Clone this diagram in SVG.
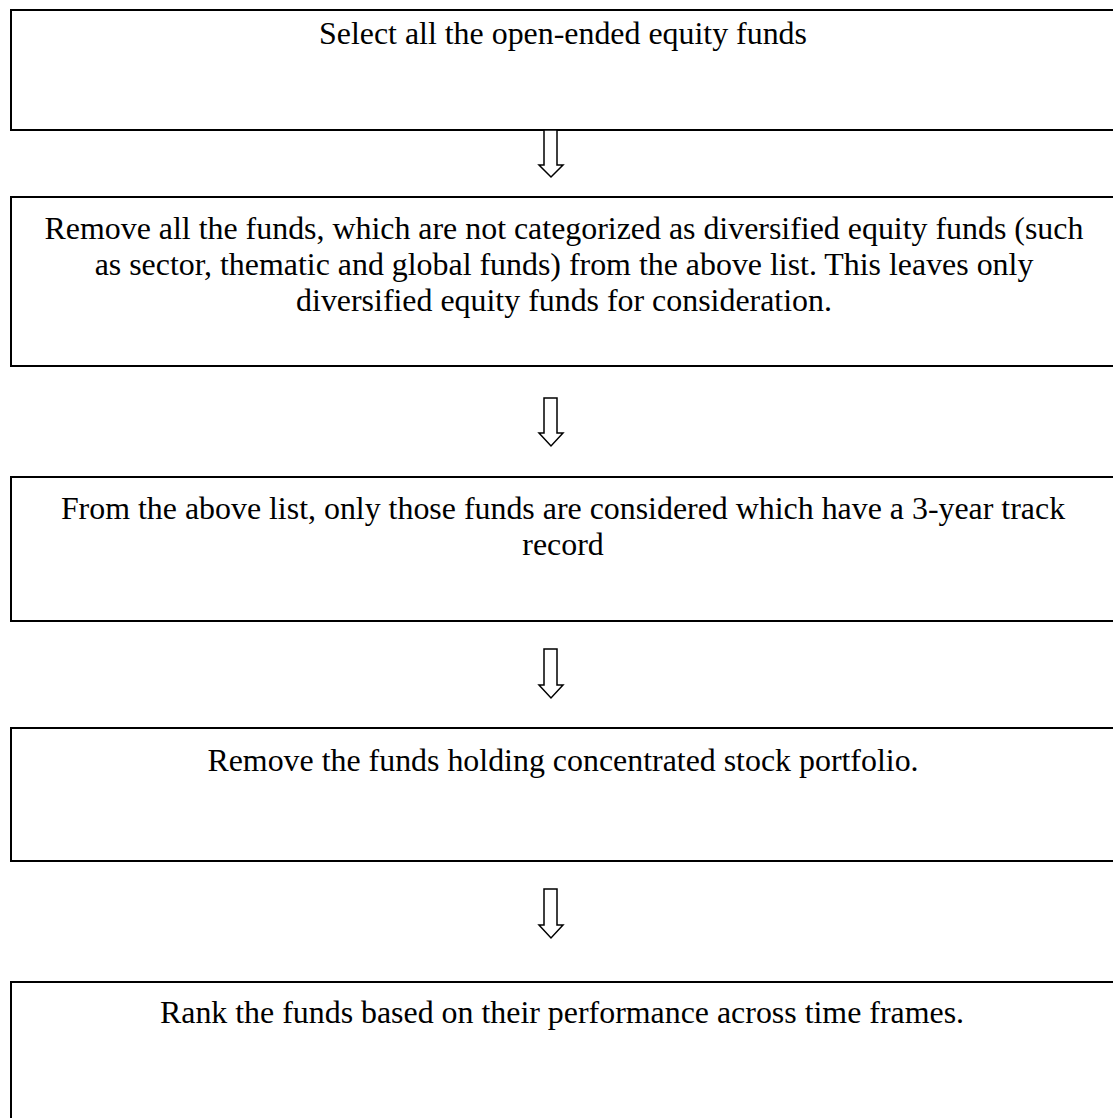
<svg xmlns="http://www.w3.org/2000/svg" width="1113" height="1118" viewBox="0 0 1113 1118">
<style>
.box{fill:#fff;stroke:#000;stroke-width:2}
.arrow{fill:#fff;stroke:#000;stroke-width:1.5;stroke-linejoin:miter}
.t{font-family:"Liberation Serif","Times New Roman",serif;font-size:31.9px;fill:#000;text-anchor:middle}
</style>
<rect width="1113" height="1118" fill="#fff"/>
<g id="node1">
<rect class="box" x="11" y="10" width="1120" height="120"/>
<text class="t" x="563" y="44">Select all the open-ended equity funds</text>
</g>
<g id="node2">
<rect class="box" x="11" y="197" width="1120" height="169"/>
<text class="t" x="564" y="239">Remove all the funds, which are not categorized as diversified equity funds (such</text>
<text class="t" x="564" y="275">as sector, thematic and global funds) from the above list. This leaves only</text>
<text class="t" x="564" y="311">diversified equity funds for consideration.</text>
</g>
<g id="node3">
<rect class="box" x="11" y="477" width="1120" height="144"/>
<text class="t" x="563" y="519">From the above list, only those funds are considered which have a 3-year track</text>
<text class="t" x="563" y="555">record</text>
</g>
<g id="node4">
<rect class="box" x="11" y="728" width="1120" height="133"/>
<text class="t" x="563" y="771">Remove the funds holding concentrated stock portfolio.</text>
</g>
<g id="node5">
<rect class="box" x="11" y="982" width="1120" height="160"/>
<text class="t" x="562" y="1023">Rank the funds based on their performance across time frames.</text>
</g>
<g id="connectors">
<polygon class="arrow" points="544,130 557,130 557,165 563,165 551,177 539,165 544,165"/>
<polygon class="arrow" points="544,398 557,398 557,433 563,433 551,446 539,433 544,433"/>
<polygon class="arrow" points="544,649 557,649 557,685 563,685 551,698 539,685 544,685"/>
<polygon class="arrow" points="544,889 557,889 557,925 563,925 551,938 539,925 544,925"/>
</g>
</svg>
